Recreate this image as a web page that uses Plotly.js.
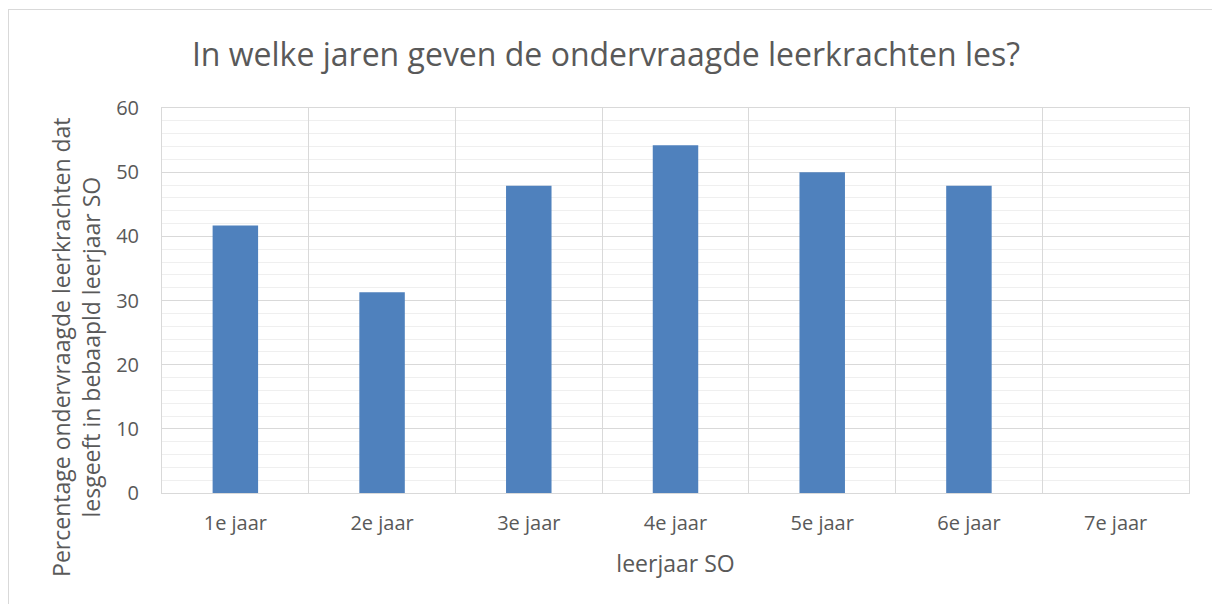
<!DOCTYPE html>
<html>
<head>
<meta charset="utf-8">
<script src="https://cdn.plot.ly/plotly-3.0.1.min.js"></script>
<style>
html,body{margin:0;padding:0;background:#fff;}
#wrap{position:relative;width:1212px;height:604px;overflow:hidden;}
#chart{position:absolute;left:0;top:0;width:1212px;height:604px;}
#frame{position:absolute;left:8px;top:9px;width:1220px;height:620px;border:1px solid #d9d9d9;pointer-events:none;box-sizing:border-box;}
</style>
</head>
<body>
<div id="wrap"><div id="chart"></div><div id="frame"></div></div>
<script>
const categories = ["1e jaar","2e jaar","3e jaar","4e jaar","5e jaar","6e jaar","7e jaar"];
const percentages = [41.7, 31.3, 47.9, 54.2, 50.0, 47.9, 0];
const yTickValues = [0,10,20,30,40,50,60];
const chartTitle = "In welke jaren geven de ondervraagde leerkrachten les?";
const xTitle = "leerjaar SO";
const yTitleLines = ["Percentage ondervraagde leerkrachten dat","lesgeeft in bebaapld leerjaar SO"];

const font = "'Open Sans', 'Noto Sans', sans-serif";
const grey = "#595959";

const trace = {
  type: "bar",
  x: categories,
  y: percentages,
  marker: {color: "#4f81bd", line: {width: 0}},
  hoverinfo: "x+y"
};

const layout = {
  width: 1212, height: 604,
  margin: {l: 162, r: 23, t: 108, b: 111},
  paper_bgcolor: "#fff", plot_bgcolor: "#fff",
  font: {family: font, color: grey},
  showlegend: false,
  bargap: 0.69,
  title: {text: chartTitle, font: {family: font, size: 32, color: grey}, x: 0.5, xanchor: "center", y: 0.91, yanchor: "middle"},
  xaxis: {
    type: "category",
    tickson: "boundaries",
    showgrid: true, gridcolor: "#d9d9d9", gridwidth: 1,
    showline: true, linecolor: "#d9d9d9", linewidth: 1, mirror: true,
    ticks: "", tickfont: {size: 20, color: grey, family: font},
    ticklabelstandoff: 12,
    title: {text: xTitle, font: {size: 23, color: grey, family: font}, standoff: 20},
    range: [-0.5, 6.5]
  },
  yaxis: {
    range: [0, 60],
    tickvals: yTickValues,
    showgrid: true, gridcolor: "#d9d9d9", gridwidth: 1,
    minor: {dtick: 2, showgrid: true, gridcolor: "#efefef", gridwidth: 1},
    showline: true, linecolor: "#d9d9d9", linewidth: 1, mirror: true,
    zeroline: false,
    ticks: "", tickfont: {size: 20, color: grey, family: font},
    ticklabelstandoff: 18
  },
  annotations: [
    {text: yTitleLines.join("<br>"), textangle: -90, xref: "paper", yref: "paper",
     x: -0.0837, y: 0.377, xanchor: "center", yanchor: "middle", showarrow: false,
     font: {size: 23, color: grey, family: font}}
  ]
};

Plotly.newPlot("chart", [trace], layout, {displayModeBar: false, staticPlot: true});
</script>
</body>
</html>
